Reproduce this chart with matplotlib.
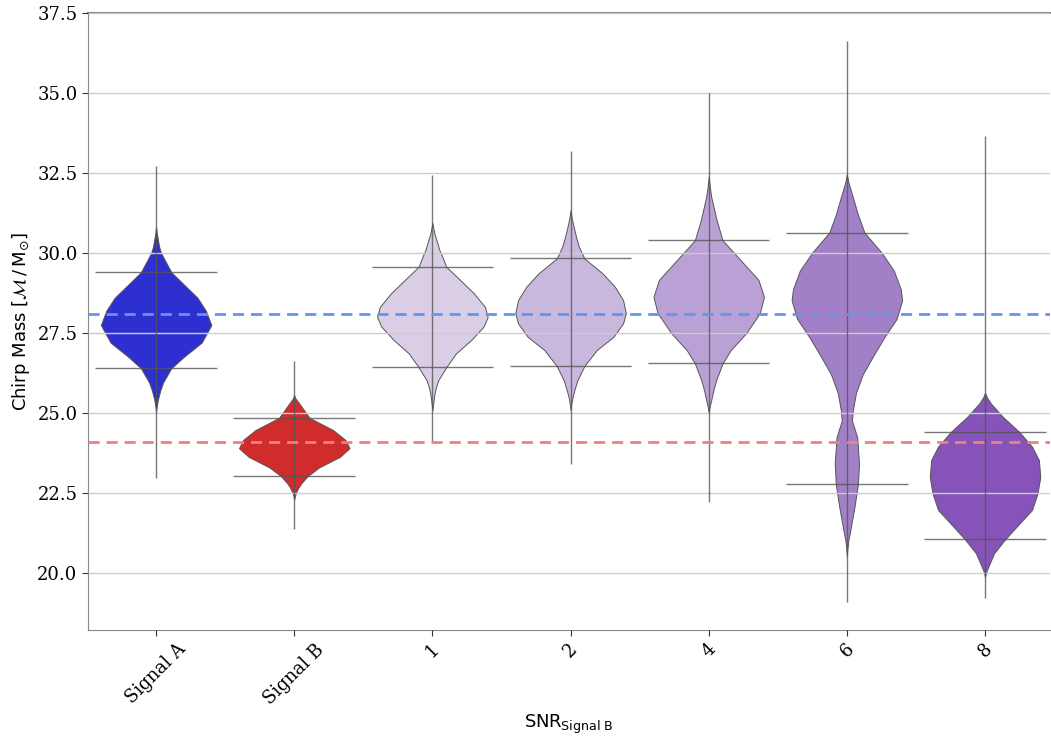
import numpy as np
import matplotlib.pyplot as plt

# categories on the x axis
labels = ["Signal A", "Signal B", "1", "2", "4", "6", "8"]
colors = ["#2d2fd0", "#d02c2c", "#d9cee6", "#c9b8de", "#baa1d5", "#a180c8", "#8654b8"]

# violin outlines: y (chirp mass) and half width (x units)
a_y = [30.8, 30.6, 30.2, 30.0, 29.4, 28.6, 28.2, 27.75, 27.2, 26.75, 26.4, 25.95, 25.7, 25.4, 25.2, 25.05]
a_w = [0.0, 0.006, 0.022, 0.036, 0.11, 0.30, 0.36, 0.40, 0.33, 0.20, 0.11, 0.05, 0.03, 0.012, 0.005, 0.0]
b_y = [25.55, 25.45, 25.3, 24.85, 24.47, 24.16, 23.9, 23.63, 23.3, 23.03, 22.8, 22.65, 22.5, 22.4, 22.3]
b_w = [0.0, 0.01, 0.036, 0.11, 0.28, 0.37, 0.40, 0.33, 0.18, 0.097, 0.05, 0.028, 0.012, 0.005, 0.0]
s1_y = [30.94, 30.6, 30.31, 30.1, 29.88, 29.57, 29.16, 28.74, 28.32, 28.0, 27.7, 27.28, 26.86,
        26.43, 26.03, 25.8, 25.6, 25.3, 25.09]
s1_w = [0.0, 0.015, 0.036, 0.05, 0.072, 0.10, 0.20, 0.30, 0.38, 0.40, 0.37, 0.28, 0.17,
        0.10, 0.043, 0.025, 0.015, 0.006, 0.0]
s2_y = [31.34, 31.1, 30.82, 30.5, 30.2, 29.83, 29.37, 28.95, 28.53, 28.12, 27.8, 27.38, 26.97,
        26.47, 26.03, 25.75, 25.51, 25.3, 25.1]
s2_w = [0.0, 0.008, 0.022, 0.04, 0.06, 0.10, 0.23, 0.32, 0.38, 0.40, 0.38, 0.31, 0.19,
        0.10, 0.05, 0.03, 0.015, 0.006, 0.0]
s4_y = [32.38, 32.1, 31.76, 31.03, 30.4, 29.78, 29.16, 28.63, 28.12, 27.49, 26.97, 26.55, 26.03,
        25.7, 25.4, 25.2, 25.0]
s4_w = [0.0, 0.007, 0.018, 0.057, 0.10, 0.23, 0.36, 0.40, 0.37, 0.27, 0.16, 0.10, 0.054,
        0.033, 0.018, 0.007, 0.0]
s6_y = [32.46, 32.2, 31.76, 31.2, 30.64, 30.02, 29.45, 28.87, 28.52, 27.94, 27.36, 26.78, 26.21, 25.63,
        25.05, 24.76, 24.24, 23.43, 22.77, 22.04, 21.34, 21.0, 20.8, 20.53]
s6_w = [0.0, 0.012, 0.042, 0.08, 0.127, 0.25, 0.34, 0.39, 0.40, 0.36, 0.27, 0.19, 0.115, 0.066,
        0.042, 0.037, 0.075, 0.088, 0.08, 0.054, 0.025, 0.01, 0.005, 0.0]
s8_y = [25.63, 25.5, 25.3, 24.89, 24.4, 23.95, 23.53, 23.0, 22.49, 21.97, 21.55, 21.05, 20.62,
        20.2, 20.05, 19.88]
s8_w = [0.0, 0.012, 0.042, 0.127, 0.25, 0.34, 0.39, 0.40, 0.38, 0.34, 0.25, 0.145, 0.066,
        0.024, 0.01, 0.0]

# min / max of each sample and the two quantile lines
mins = [22.97, 21.37, 24.1, 23.4, 22.23, 19.1, 19.22]
maxs = [32.72, 26.63, 32.44, 33.2, 34.99, 36.63, 33.66]
q_lo = [26.4, 23.04, 26.43, 26.47, 26.55, 22.77, 21.05]
q_hi = [29.4, 24.85, 29.57, 29.83, 30.4, 30.64, 24.4]

true_a = 28.1
true_b = 24.09

shapes = [(a_y, a_w), (b_y, b_w), (s1_y, s1_w), (s2_y, s2_w),
          (s4_y, s4_w), (s6_y, s6_w), (s8_y, s8_w)]

fig = plt.figure(figsize=(10.51, 7.37), dpi=100)
ax = fig.add_axes([0.0837, 0.1452, 0.9153, 0.8372])

for i, (yy, ww) in enumerate(shapes):
    yy = np.array(yy)
    ww = np.array(ww)
    ax.fill_betweenx(yy, i - ww, i + ww, facecolor=colors[i], edgecolor="#555555",
                     linewidth=0.7, joinstyle="round", zorder=1)
    ax.vlines(i, mins[i], maxs[i], color="#555555", linewidth=1.0, alpha=0.8, zorder=3)
    ax.hlines([q_lo[i], q_hi[i]], i - 0.44, i + 0.44, color="#555555", linewidth=1.0,
              alpha=0.8, zorder=3)

ax.axhline(true_a, color="#6495ed", linestyle="--", linewidth=2, dashes=(4, 2.5), zorder=4)
ax.axhline(true_b, color="#f08080", linestyle="--", linewidth=2, dashes=(4, 2.5), zorder=4)

ax.set_xlim(-0.493, 6.47)
ax.set_ylim(18.22, 37.5)
ax.set_yticks([20.0, 22.5, 25.0, 27.5, 30.0, 32.5, 35.0, 37.5])
ax.set_xticks(range(len(labels)))
ax.set_xticklabels(labels, rotation=45, family="DejaVu Serif", fontsize=13)
for t in ax.get_yticklabels():
    t.set_family("DejaVu Serif")
    t.set_fontsize(13)

ax.yaxis.grid(True, color="#cccccc", linewidth=1, zorder=2)
ax.set_axisbelow(False)
for s in ["left", "bottom", "top"]:
    ax.spines[s].set_color("#888888")
ax.spines["top"].set_linewidth(1.5)
ax.spines["right"].set_visible(False)
ax.tick_params(colors="#333333", length=4)
ax.tick_params(labelcolor="black")

ax.set_ylabel(r"Chirp Mass [$\mathcal{M}\,/\,\mathrm{M}_{\odot}$]", fontsize=13)
ax.set_xlabel(r"SNR$_{\mathrm{Signal\ B}}$", fontsize=13)

fig.savefig("out.png", dpi=100)
